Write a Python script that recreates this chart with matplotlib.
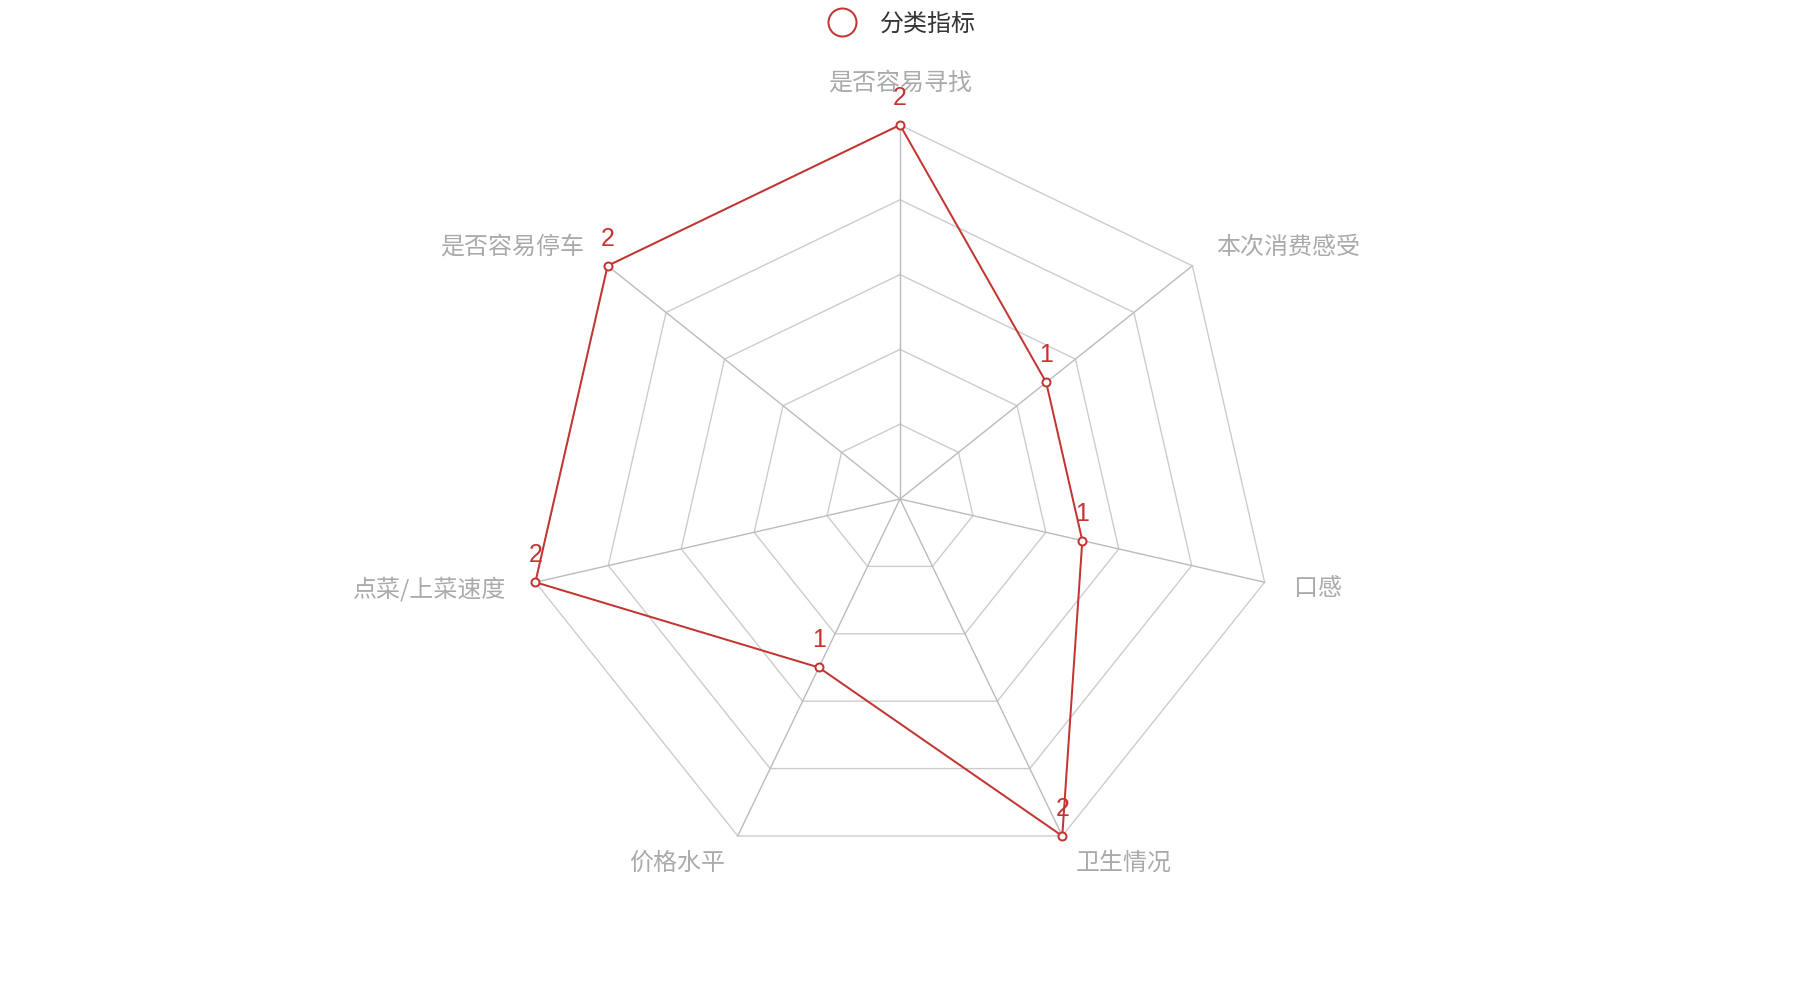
import numpy as np
import matplotlib
matplotlib.use("Agg")
import matplotlib.pyplot as plt
from matplotlib.lines import Line2D

plt.rcParams['font.family'] = ['Noto Sans CJK SC', 'DejaVu Sans']

# data (clockwise from top)
indicators = ["是否容易寻找", "本次消费感受", "口感", "卫生情况", "价格水平", "点菜/上菜速度", "是否容易停车"]
values = [2, 1, 1, 2, 1, 2, 2]
max_value = 2
split_levels = [0.4, 0.8, 1.2, 1.6, 2.0]
series_name = "分类指标"

red = "#c23531"
px = 0.72  # points per pixel at dpi 100

fig = plt.figure(figsize=(18, 10), dpi=100)
# center at (900, 499) px from top-left, radius 374 px
ax = fig.add_axes([(900 - 374) / 1800, (501 - 374) / 1000, 748 / 1800, 748 / 1000], projection="polar")
ax.set_theta_offset(np.pi / 2)
ax.set_theta_direction(-1)
ax.set_ylim(0, max_value)
ax.grid(False)
ax.set_xticks([])
ax.set_yticks([])
ax.spines["polar"].set_visible(False)
ax.patch.set_alpha(0)

n = len(indicators)
angles = np.arange(n) * 2 * np.pi / n
closed = np.append(angles, angles[0])

# split rings
for lv in split_levels:
    ax.plot(closed, [lv] * (n + 1), color="#cccccc", lw=1.0, zorder=1, clip_on=False)
# axis spokes
for a in angles:
    ax.plot([a, a], [0, max_value], color="#bbbbbb", lw=1.0, zorder=1, clip_on=False)

# series
vals = np.append(values, values[0])
ax.plot(closed, vals, color=red, lw=2 * px, zorder=3, clip_on=False)
ax.plot(angles, values, ls="none", marker="o", ms=8 * px, mfc="white", mec=red, mew=2 * px,
        zorder=4, clip_on=False)
for a, v in zip(angles, values):
    ax.annotate(str(v), (a, v), xytext=(0, 27), textcoords="offset pixels",
                ha="center", va="center", color=red, fontsize=25 * px,
                family=["Liberation Sans", "DejaVu Sans"], zorder=5, annotation_clip=False)

# indicator names
r_lab = max_value * (1 + 30 / 374)
for a, name in zip(angles, indicators):
    s = np.sin(a)
    c = np.cos(a)
    if abs(s) < 1e-6:
        ha = "center"
    elif s > 0:
        ha = "left"
    else:
        ha = "right"
    if abs(s) < 1e-6 and c > 0:
        va = "bottom"
    elif abs(s) < 1e-6:
        va = "top"
    else:
        va = "center"
    ax.text(a, r_lab, name, ha=ha, va=va, color="#aaaaaa", fontsize=24 * px, clip_on=False)

# legend
handle = Line2D([], [], ls="none", marker="o", ms=28 * px, mfc="white", mec=red, mew=2 * px)
fig.legend([handle], [series_name], loc="center", bbox_to_anchor=(0.5, 1 - 24 / 1000),
           frameon=False, fontsize=24 * px, labelcolor="#333333", handletextpad=0.8,
           handlelength=1.5)

fig.savefig("out.png", dpi=100)
